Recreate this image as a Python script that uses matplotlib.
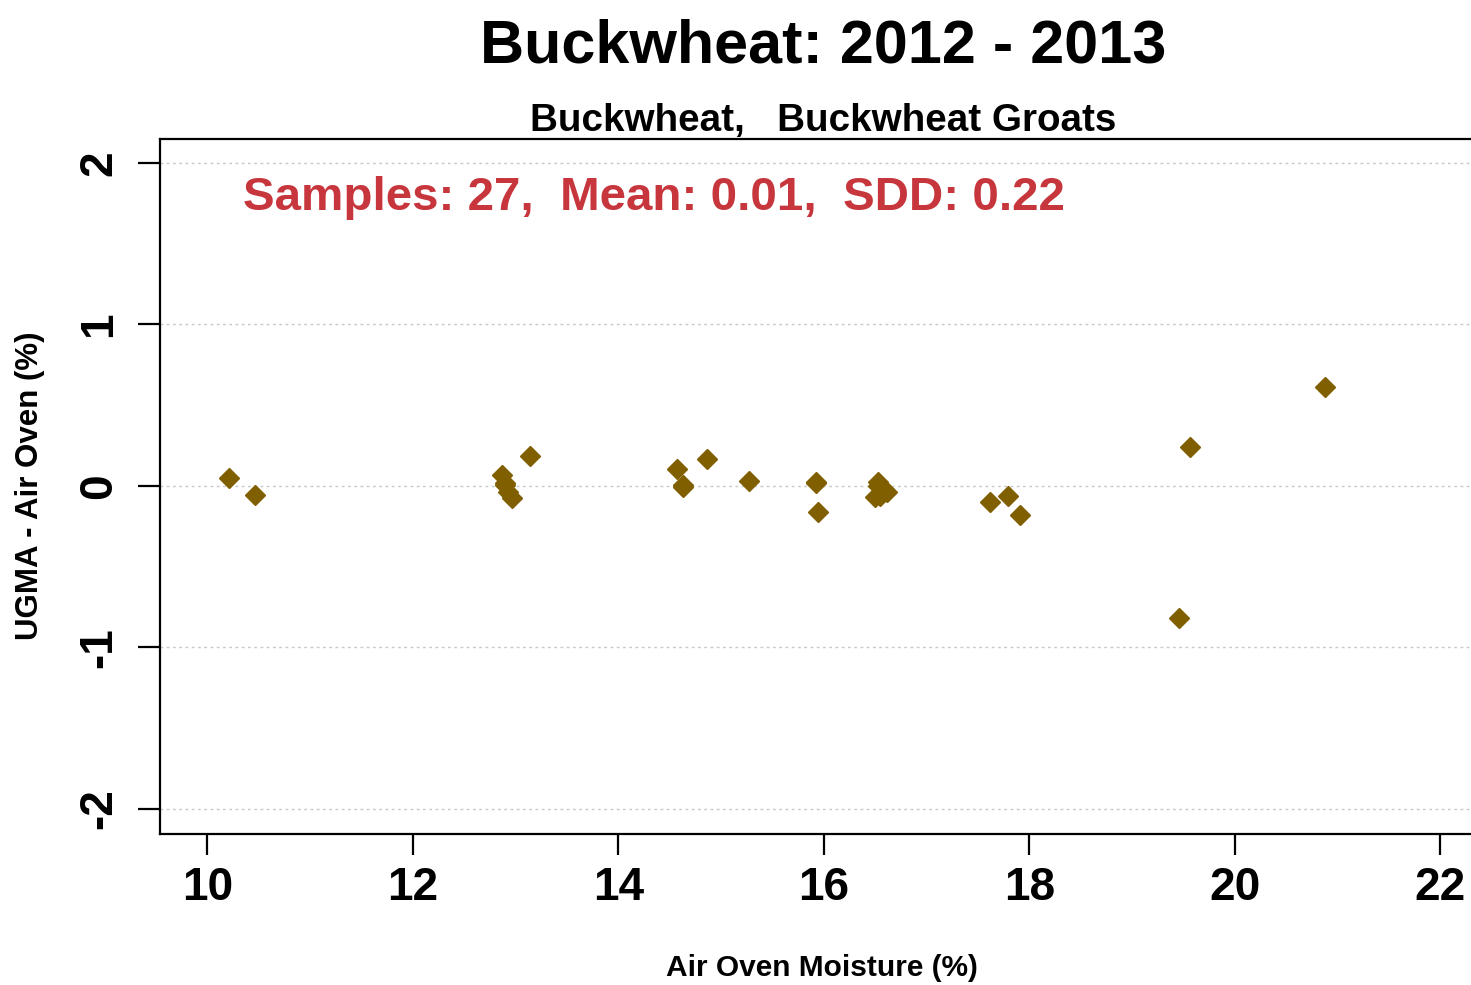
import matplotlib
matplotlib.use("Agg")
import matplotlib.pyplot as plt

# Data
air_oven = [10.21, 10.46, 12.87, 12.90, 12.90, 12.93, 12.97, 13.14,
            14.57, 14.63, 14.63, 14.86, 15.27, 15.92, 15.92, 15.94,
            16.50, 16.53, 16.53, 16.55, 16.62, 17.62, 17.79, 17.91,
            19.46, 19.56, 20.88]
diff = [0.05, -0.055, 0.07, 0.006, 0.02, -0.04, -0.075, 0.185,
        0.105, 0.006, -0.01, 0.165, 0.03, 0.025, 0.02, -0.16,
        -0.07, 0.025, 0.0, -0.06, -0.035, -0.10, -0.06, -0.18,
        -0.82, 0.24, 0.61]
x_ticks = [10, 12, 14, 16, 18, 20, 22]
y_ticks = [-2, -1, 0, 1, 2]

title = "Buckwheat: 2012 - 2013"
subtitle = "Buckwheat,   Buckwheat Groats"
stats_text = "Samples: 27,  Mean: 0.01,  SDD: 0.22"
xlabel = "Air Oven Moisture (%)"
ylabel = "UGMA - Air Oven (%)"

plt.rcParams['font.family'] = ['Liberation Sans', 'DejaVu Sans']

W, H = 1471, 985
fig = plt.figure(figsize=(W / 100, H / 100), dpi=100)
fig.patch.set_facecolor('white')

left_px, right_px, top_px, bot_px = 160, 1486, 139, 834
ax = fig.add_axes([left_px / W, 1 - bot_px / H, (right_px - left_px) / W, (bot_px - top_px) / H])

ax.set_xlim(9.540, 22.445)
ax.set_ylim(-2.155, 2.147)

for yv in y_ticks:
    ax.axhline(yv, color='#c8c8c8', linestyle=(0, (2.0, 2.5)), linewidth=1.0, zorder=1)

ax.plot(air_oven, diff, linestyle='none', marker='D', markersize=10,
        color='#7f5f00', markeredgecolor='#7f5f00', zorder=3, clip_on=False)

ax.spines['right'].set_visible(False)
for s in ['left', 'top', 'bottom']:
    ax.spines[s].set_linewidth(1.6)
    ax.spines[s].set_color('black')

ax.set_xticks(x_ticks)
ax.set_xticklabels([str(v) for v in x_ticks], fontsize=33, fontweight='bold')
ax.set_yticks(y_ticks)
ax.set_yticklabels([str(v) for v in y_ticks], fontsize=33, fontweight='bold',
                   rotation=90, va='center')
ax.tick_params(axis='x', length=15, width=1.6, pad=8)
ax.tick_params(axis='y', length=16, width=1.6, pad=12)

fig.text(30 / W, 1 - 486 / H, ylabel, rotation=90, ha='center', va='center',
         fontsize=22.5, fontweight='bold')
fig.text(822 / W, 1 - 968 / H, xlabel, ha='center', va='center',
         fontsize=21.5, fontweight='bold')

fig.text(823 / W, 1 - 47 / H, title, ha='center', va='center',
         fontsize=44, fontweight='bold')
fig.text(823 / W, 1 - 121 / H, subtitle, ha='center', va='center',
         fontsize=27.8, fontweight='bold')
fig.text(243 / W, 1 - 198 / H, stats_text, ha='left', va='center',
         fontsize=34.2, fontweight='bold', color='#c6363c')

fig.savefig('out.png', dpi=100)
